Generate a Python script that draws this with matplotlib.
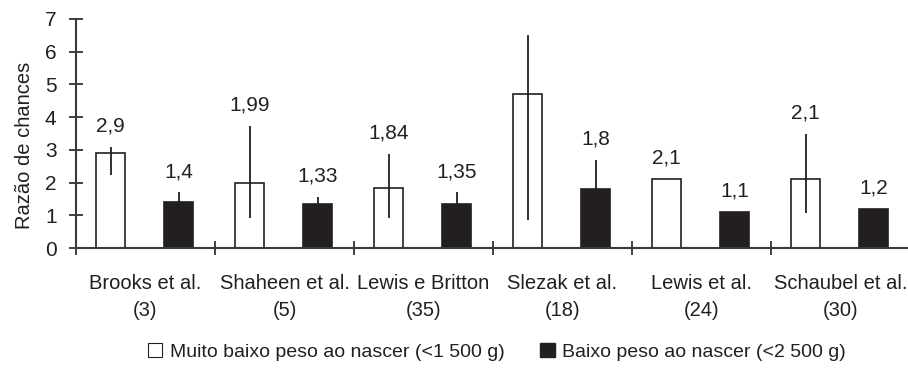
import numpy as np
import matplotlib
matplotlib.use('Agg')
import matplotlib.pyplot as plt
from matplotlib.patches import Patch

plt.rcParams['font.family'] = ['Liberation Sans', 'DejaVu Sans']

# data
studies = ['Brooks et al.\n(3)', 'Shaheen et al.\n(5)', 'Lewis e Britton\n(35)',
           'Slezak et al.\n(18)', 'Lewis et al.\n(24)', 'Schaubel et al.\n(30)']
mbpn = [2.9, 1.99, 1.84, 4.7, 2.1, 2.1]
mbpn_lo = [2.24, 0.93, 0.93, 0.85, 2.1, 1.08]
mbpn_hi = [3.1, 3.73, 2.88, 6.5, 2.1, 3.5]
mbpn_show = [True, True, True, False, True, True]
bpn = [1.4, 1.33, 1.35, 1.8, 1.1, 1.2]
bpn_hi = [1.7, 1.55, 1.7, 2.7, 1.1, 1.2]
yticks = [0, 1, 2, 3, 4, 5, 6, 7]

ink = '#231f20'
fig = plt.figure(figsize=(9.08, 3.68), dpi=100)
ax = fig.add_axes([76/908, 1-248/368, 834/908, 229/368])

x = np.arange(len(studies))
xw = x + 0.25
xb = x + 0.74

ax.bar(xw, mbpn, width=0.21, color='white', edgecolor=ink, linewidth=1.2, zorder=2)
ax.bar(xb, bpn, width=0.21, color=ink, edgecolor=ink, linewidth=1.2, zorder=2)
ax.vlines(xw, mbpn_lo, mbpn_hi, color=ink, linewidth=1.3, zorder=3)
ax.vlines(xb, bpn, bpn_hi, color=ink, linewidth=1.3, zorder=3)

def fmt(v):
    return ('%g' % v).replace('.', ',')

for i in range(len(studies)):
    if mbpn_show[i]:
        ax.annotate(fmt(mbpn[i]), (xw[i], max(mbpn[i], mbpn_hi[i])), xytext=(0, 15),
                    textcoords='offset points', ha='center', va='center',
                    fontsize=15, color=ink)
    ax.annotate(fmt(bpn[i]), (xb[i], max(bpn[i], bpn_hi[i])), xytext=(0, 15),
                textcoords='offset points', ha='center', va='center',
                fontsize=15, color=ink)

ax.set_xlim(0, len(studies))
ax.set_ylim(0, 7)
ax.set_yticks(yticks)
ax.set_xticks(x)
ax.set_xticklabels([])
ax.set_xticks(x + 0.5, minor=True)
ax.set_xticklabels(studies, minor=True, fontsize=14.5, color=ink, linespacing=1.5)
ax.tick_params(axis='x', which='minor', length=0, pad=19)
ax.tick_params(axis='x', which='major', direction='inout', length=10, width=1.2, color=ink)
ax.tick_params(axis='y', direction='inout', length=10, width=1.2, color=ink,
               labelsize=15, labelcolor=ink, pad=9)

for s in ['top', 'right']:
    ax.spines[s].set_visible(False)
for s in ['left', 'bottom']:
    ax.spines[s].set_color('#3a3a3a')
    ax.spines[s].set_linewidth(1.5)

ax.set_ylabel('Razão de chances', fontsize=14.5, color=ink)
ax.yaxis.set_label_coords(-0.05, 0.45)

handles = [Patch(facecolor='white', edgecolor=ink, linewidth=0.8),
           Patch(facecolor=ink, edgecolor=ink)]
fig.legend(handles, ['Muito baixo peso ao nascer (<1 500 g)', 'Baixo peso ao nascer (<2 500 g)'],
           loc='center', bbox_to_anchor=(497/908, 1-352/368), ncol=2, frameon=False,
           fontsize=14, handlelength=0.75, handleheight=0.75, handletextpad=0.4,
           columnspacing=1.8, labelcolor=ink)

fig.savefig('out.png', dpi=100)
